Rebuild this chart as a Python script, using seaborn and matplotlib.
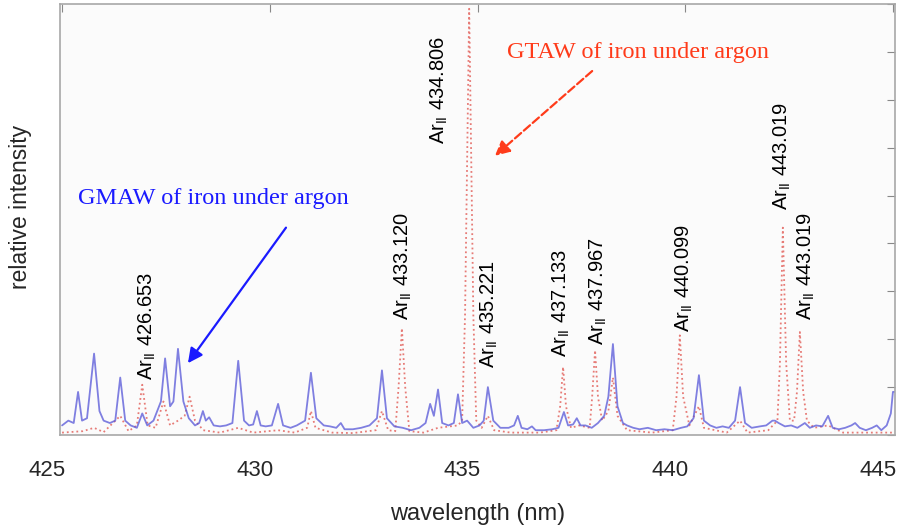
import numpy as np
import pandas as pd
import matplotlib
matplotlib.use('Agg')
import matplotlib.pyplot as plt
import matplotlib.transforms as mtransforms
import seaborn as sns

# GMAW spectrum (blue, solid)
blue_nm = [425.00, 425.15, 425.28, 425.385, 425.48, 425.60, 425.77, 425.90, 426.00, 426.15,
           426.28, 426.40, 426.52, 426.65, 426.80, 426.93, 427.05, 427.20, 427.38, 427.48,
           427.60, 427.68, 427.79, 427.92, 428.05, 428.20, 428.30, 428.39, 428.46, 428.54,
           428.65, 428.80, 428.95, 429.10, 429.24, 429.38, 429.50, 429.60, 429.69, 429.78,
           429.90, 430.05, 430.20, 430.32, 430.50, 430.65, 430.85, 430.99, 431.12, 431.30,
           431.45, 431.60, 431.71, 431.80, 432.00, 432.20, 432.40, 432.58, 432.70, 432.82,
           433.00, 433.20, 433.40, 433.60, 433.75, 433.86, 433.95, 434.05, 434.15, 434.30,
           434.43, 434.53, 434.63, 434.75, 434.90, 435.05, 435.15, 435.25, 435.38, 435.55,
           435.75, 435.88, 435.97, 436.06, 436.20, 436.31, 436.40, 436.60, 436.80, 436.95,
           437.08, 437.18, 437.30, 437.39, 437.48, 437.60, 437.75, 437.90, 438.05, 438.15,
           438.26, 438.37, 438.50, 438.60, 438.75, 438.90, 439.10, 439.30, 439.50, 439.70,
           439.90, 440.05, 440.20, 440.33, 440.45, 440.60, 440.75, 440.90, 441.05, 441.20,
           441.32, 441.44, 441.60, 441.80, 441.95, 442.10, 442.16, 442.25, 442.40, 442.55,
           442.70, 442.88, 443.00, 443.15, 443.30, 443.44, 443.55, 443.70, 443.85, 444.00,
           444.09, 444.20, 444.35, 444.50, 444.61, 444.72, 444.85, 444.95, 445.00, 445.05]
blue_int = [0.20, 0.30, 0.25, 0.90, 0.30, 0.35, 1.70, 0.50, 0.30, 0.25,
            0.30, 1.20, 0.30, 0.20, 0.15, 0.45, 0.20, 0.30, 0.70, 1.60,
            0.60, 0.70, 1.80, 0.70, 0.35, 0.20, 0.25, 0.50, 0.30, 0.37,
            0.20, 0.18, 0.20, 0.25, 1.55, 0.30, 0.20, 0.22, 0.50, 0.20,
            0.18, 0.20, 0.65, 0.20, 0.15, 0.20, 0.30, 1.30, 0.35, 0.20,
            0.18, 0.15, 0.25, 0.12, 0.12, 0.15, 0.20, 0.35, 1.35, 0.35,
            0.18, 0.15, 0.10, 0.15, 0.25, 0.65, 0.40, 0.95, 0.25, 0.20,
            0.25, 0.85, 0.25, 0.30, 0.15, 0.20, 0.30, 1.00, 0.30, 0.15,
            0.15, 0.20, 0.40, 0.15, 0.12, 0.18, 0.10, 0.10, 0.12, 0.15,
            0.48, 0.20, 0.22, 0.35, 0.20, 0.20, 0.15, 0.25, 0.40, 0.80,
            1.90, 0.60, 0.25, 0.20, 0.15, 0.12, 0.15, 0.10, 0.12, 0.10,
            0.15, 0.18, 0.35, 1.25, 0.30, 0.20, 0.15, 0.18, 0.15, 0.30,
            1.00, 0.25, 0.15, 0.18, 0.20, 0.30, 0.30, 0.25, 0.18, 0.20,
            0.15, 0.25, 0.15, 0.20, 0.18, 0.40, 0.15, 0.12, 0.15, 0.20,
            0.25, 0.15, 0.10, 0.15, 0.20, 0.10, 0.20, 0.45, 0.90, 0.90]

# GTAW spectrum (red, dotted)
red_nm = [425.00, 425.50, 425.77, 426.00, 426.40, 426.60, 426.80, 426.93, 427.06, 427.25,
          427.44, 427.60, 427.79, 427.95, 428.07, 428.20, 428.40, 428.80, 429.24, 429.60,
          430.20, 430.60, 430.90, 430.99, 431.10, 431.50, 432.00, 432.55, 432.70, 432.85,
          433.02, 433.10, 433.18, 433.26, 433.36, 433.70, 434.05, 434.53, 434.63, 434.70,
          434.80, 434.90, 434.97, 435.10, 435.25, 435.40, 435.80, 436.50, 436.90, 436.99,
          437.06, 437.13, 437.25, 437.45, 437.70, 437.76, 437.83, 437.90, 438.00, 438.15,
          438.26, 438.37, 438.60, 439.20, 439.70, 439.79, 439.87, 439.95, 440.10, 440.33,
          440.45, 441.00, 441.32, 441.50, 442.00, 442.22, 442.28, 442.35, 442.43, 442.52,
          442.62, 442.69, 442.76, 442.84, 442.93, 443.10, 443.44, 443.80, 444.50, 445.05]
red_int = [0.05, 0.08, 0.15, 0.06, 0.40, 0.08, 0.20, 1.05, 0.20, 0.15,
           0.70, 0.20, 0.30, 0.40, 0.80, 0.30, 0.10, 0.05, 0.15, 0.05,
           0.10, 0.05, 0.15, 0.50, 0.15, 0.05, 0.04, 0.10, 0.50, 0.10,
           0.08, 1.00, 2.23, 1.00, 0.08, 0.05, 0.15, 0.20, 0.30, 2.50,
           8.90, 2.50, 0.30, 0.15, 0.40, 0.10, 0.05, 0.05, 0.10, 0.60,
           1.42, 0.60, 0.15, 0.20, 0.15, 0.80, 1.77, 0.80, 0.30, 0.50,
           1.20, 0.40, 0.10, 0.05, 0.10, 0.80, 2.08, 0.80, 0.20, 0.60,
           0.15, 0.05, 0.30, 0.05, 0.10, 0.30, 1.50, 4.33, 1.50, 0.30,
           0.30, 0.90, 2.15, 0.90, 0.30, 0.15, 0.20, 0.05, 0.05, 0.05]

# Ar II line labels: text, x anchor (nm), bottom of text (intensity)
line_labels = ['426.653', '433.120', '434.806', '435.221', '437.133',
               '437.967', '440.099', '443.019', '443.019']
label_x = [427.05, 433.21, 434.07, 435.28, 437.01, 437.92, 439.97, 442.33, 442.91]
label_y = [1.15, 2.40, 6.08, 1.40, 1.63, 1.875, 2.15, 4.69, 2.40]

x_ticks = [425, 430, 435, 440, 445]

sns.set_style('white')
plt.rcParams['font.family'] = ['Liberation Sans', 'DejaVu Sans']
plt.rcParams['mathtext.fontset'] = 'custom'
plt.rcParams['mathtext.rm'] = 'Liberation Sans'
plt.rcParams['mathtext.it'] = 'Liberation Sans'

fig = plt.figure(figsize=(9.02, 5.29), dpi=100)
ax = fig.add_axes([60 / 902, 1 - 435 / 529, 835 / 902, 431 / 529])
ax.set_facecolor('#fbfbfb')

sns.lineplot(x=red_nm, y=red_int, ax=ax, color='#e0504a', linestyle=':',
             linewidth=1.3, alpha=0.75, estimator=None)
sns.lineplot(x=blue_nm, y=blue_int, ax=ax, color='#5555d8', linestyle='-',
             linewidth=1.3, alpha=0.75, estimator=None)

for txt, lx, ly in zip(line_labels, label_x, label_y):
    ax.text(lx, ly, r'Ar$_{\rm II}$ ' + txt, rotation=90, ha='center', va='bottom',
            fontsize=14.5, color='black')

ax.annotate('', xy=(428.03, 1.5), xytext=(430.39, 4.33),
            arrowprops=dict(arrowstyle='-|>', color='#1a1aff', lw=1.6,
                            mutation_scale=22, shrinkA=0, shrinkB=0))
ax.text(425.385, 4.94, 'GMAW of iron under argon', color='#1a1aff',
        family=['Liberation Serif'], fontsize=17.5, ha='left', va='center')
ax.annotate('', xy=(435.42, 5.83), xytext=(437.76, 7.6),
            arrowprops=dict(arrowstyle='-|>', color='#ff3b1a', lw=1.6, linestyle='--',
                            mutation_scale=22, shrinkA=0, shrinkB=0))
ax.text(435.71, 7.98, 'GTAW of iron under argon', color='#ff3b1a',
        family=['Liberation Serif'], fontsize=17.5, ha='left', va='center')

ax.set_xlim(424.95, 445.05)
ax.set_ylim(0, 9)
ax.set_xticks(x_ticks)
ax.set_xticklabels([str(t) for t in x_ticks])
ax.set_yticks(range(10))
ax.set_yticklabels([])
ax.tick_params(direction='in', length=6, width=0.8, color='#888888',
               top=True, right=True, labelsize=16, pad=18)
for s in ax.spines.values():
    s.set_color('#a8a8a8')
    s.set_linewidth(1.2)
ax.set_xlabel('wavelength (nm)', fontsize=17, labelpad=16)
ax.set_ylabel('relative intensity', fontsize=16.5)
ax.yaxis.set_label_coords(-0.034, 0.53)

# tick labels sit a little left of their ticks in the original
shift = mtransforms.ScaledTranslation(-15 / 100, 0, fig.dpi_scale_trans)
for lab in ax.get_xticklabels():
    lab.set_transform(lab.get_transform() + shift)

fig.savefig('out.png', dpi=100)
